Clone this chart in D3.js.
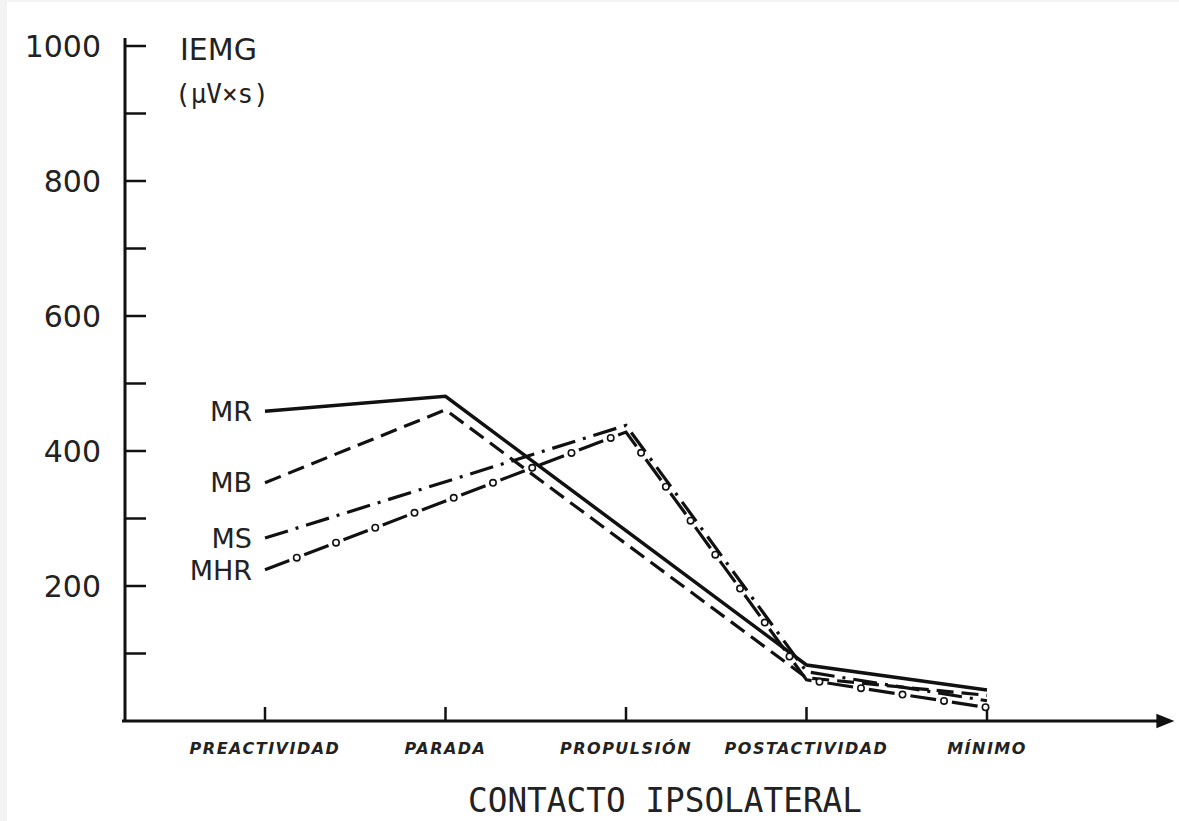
<!DOCTYPE html>
<html>
<head>
<meta charset="utf-8">
<script src="https://cdn.jsdelivr.net/npm/d3@7"></script>
<style>
  body { margin: 0; background: #f3f3f3; }
  svg { display: block; }
</style>
</head>
<body>
<div id="chart"></div>
<script>
// categories along the x axis (contact phases)
const phases = ["PREACTIVIDAD", "PARADA", "PROPULSIÓN", "POSTACTIVIDAD", "MÍNIMO"];
// IEMG values (µV×s), null = no vertex drawn there
const mrValues  = [459, 481, null, 83, 46];
const mbValues  = [353, 461, null, 64, 38];
const msValues  = [271, null, 438, 73, 30];
const mhrValues = [224, null, 428, 61, 20];
const seriesNames = ["MR", "MB", "MS", "MHR"];
const majorTicks = [200, 400, 600, 800, 1000];
const minorTicks = [100, 300, 500, 700, 900];

const W = 1179, H = 821;
const svg = d3.select("#chart").append("svg")
    .attr("width", W).attr("height", H);

// paper
svg.append("rect")
    .attr("x", 7).attr("y", 2).attr("width", W - 7).attr("height", H - 2)
    .attr("fill", "#fff");

const x = d3.scalePoint().domain(phases).range([265, 987]);
const y = d3.scaleLinear().domain([0, 1000]).range([721, 46]);

const ink = "#111";

// y axis
const yAxis = svg.append("g").attr("transform", "translate(125,0)");
yAxis.append("line")
    .attr("x1", 0).attr("x2", 0).attr("y1", 38).attr("y2", y(0))
    .attr("stroke", ink).attr("stroke-width", 3);
yAxis.selectAll(".tk")
    .data(majorTicks.concat(minorTicks))
    .enter().append("line")
    .attr("x1", 0).attr("x2", 21)
    .attr("y1", d => y(d)).attr("y2", d => y(d))
    .attr("stroke", ink).attr("stroke-width", 2.5);
yAxis.selectAll(".lbl")
    .data(majorTicks)
    .enter().append("text")
    .attr("x", -24).attr("y", d => y(d))
    .attr("dy", "0.36em")
    .attr("text-anchor", "end")
    .style("font-family", "DejaVu Sans")
    .style("font-size", "30px")
    .attr("fill", "#222")
    .text(d => d);

// y axis title
svg.append("text")
    .attr("x", 180).attr("y", 60)
    .style("font-family", "DejaVu Sans")
    .style("font-size", "30px")
    .attr("fill", "#222")
    .text("IEMG");
svg.append("text")
    .attr("x", 175).attr("y", 103)
    .style("font-family", "DejaVu Sans Mono")
    .style("font-size", "26px")
    .attr("fill", "#222")
    .text("(µV×s)");

// x axis with arrow
svg.append("defs").append("marker")
    .attr("id", "arrow")
    .attr("viewBox", "0 0 10 10")
    .attr("refX", 2).attr("refY", 5)
    .attr("markerWidth", 8).attr("markerHeight", 6)
    .attr("markerUnits", "strokeWidth")
    .attr("orient", "auto")
    .append("path").attr("d", "M0,1 L10,5 L0,9 z").attr("fill", ink);
svg.append("line")
    .attr("x1", 122).attr("x2", 1160)
    .attr("y1", y(0)).attr("y2", y(0))
    .attr("stroke", ink).attr("stroke-width", 3)
    .attr("marker-end", "url(#arrow)");
svg.selectAll(".xtk")
    .data(phases)
    .enter().append("line")
    .attr("x1", d => x(d)).attr("x2", d => x(d))
    .attr("y1", y(0)).attr("y2", y(0) - 14)
    .attr("stroke", ink).attr("stroke-width", 2.5);
svg.selectAll(".xlbl")
    .data(phases)
    .enter().append("text")
    .attr("x", d => x(d)).attr("y", 754)
    .attr("text-anchor", "middle")
    .style("font-family", "DejaVu Sans")
    .style("font-style", "italic")
    .style("font-weight", "bold")
    .style("font-size", "16px")
    .style("letter-spacing", "1.5px")
    .attr("fill", "#222")
    .text(d => d);

svg.append("text")
    .attr("x", 468).attr("y", 812)
    .attr("textLength", 394)
    .attr("lengthAdjust", "spacingAndGlyphs")
    .style("font-family", "DejaVu Sans Mono")
    .style("font-size", "34px")
    .attr("fill", "#222")
    .text("CONTACTO IPSOLATERAL");

// series
const seriesData = [mrValues, mbValues, msValues, mhrValues];
const dashes = [null, "17,8", "24,8,3,8", "26,16"];
const line = d3.line()
    .x(d => x(d.phase))
    .y(d => y(d.value));

const paths = [];
seriesData.forEach((vals, i) => {
    const pts = phases.map((p, j) => ({phase: p, value: vals[j]}))
        .filter(d => d.value !== null);
    const p = svg.append("path")
        .datum(pts)
        .attr("d", line)
        .attr("fill", "none")
        .attr("stroke", ink)
        .attr("stroke-width", i === 0 ? 3.5 : 3.2)
        .attr("stroke-linejoin", "miter")
        .attr("stroke-dasharray", dashes[i]);
    paths.push(p);

    svg.append("text")
        .attr("x", 252).attr("y", y(vals[0]))
        .attr("dy", "0.36em")
        .attr("text-anchor", "end")
        .style("font-family", "DejaVu Sans")
        .style("font-size", "27px")
        .attr("fill", "#222")
        .text(seriesNames[i]);
});

// MHR: small open circles sitting in the gaps of its dashes
const mhrNode = paths[3].node();
const len = mhrNode.getTotalLength();
const rings = [];
for (let s = 34; s < len; s += 42) rings.push(mhrNode.getPointAtLength(s));
svg.append("g").selectAll("circle")
    .data(rings)
    .enter().append("circle")
    .attr("cx", d => d.x).attr("cy", d => d.y)
    .attr("r", 3.2)
    .attr("fill", "#fff")
    .attr("stroke", ink)
    .attr("stroke-width", 1.6);
</script>
</body>
</html>
